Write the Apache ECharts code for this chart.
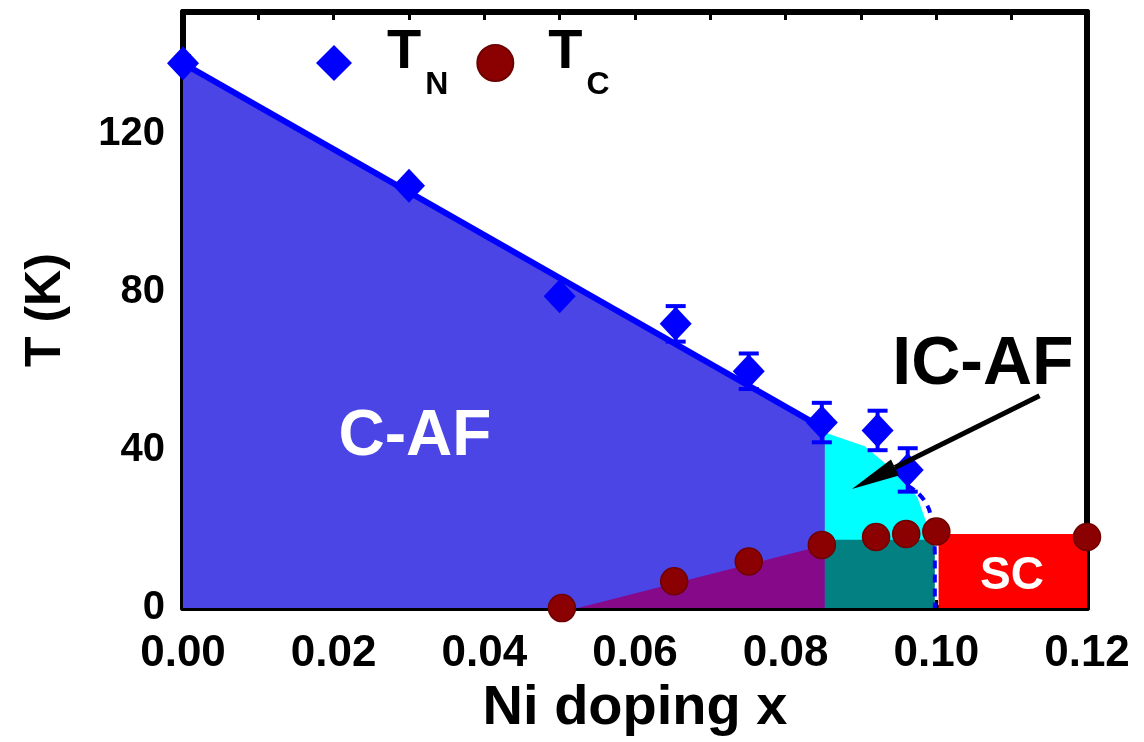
<!DOCTYPE html>
<html><head><meta charset="utf-8">
<script src="https://cdn.jsdelivr.net/npm/echarts@6/dist/echarts.min.js"></script>
<style>html,body{margin:0;padding:0;background:#fff}#c{width:1144px;height:742px}</style>
</head><body><div id="c"></div>
<script>
// ---- data ----
const tnX = [0.000, 0.030, 0.050, 0.0654, 0.0751, 0.0848, 0.0922, 0.0962];
const tnY = [138, 107, 79, 72, 60, 47, 45, 35];
const tnErr = [0, 0, 0, 4.5, 4.5, 5, 5, 5.5];
const tcX = [0.0503, 0.0652, 0.0751, 0.0848, 0.0920, 0.0960, 0.1000, 0.1200];
const tcY = [0, 6.8, 11.8, 16, 18, 18.8, 19.4, 18];
const fitLine = [[0, 138], [0.0855, 45]];
const cafRegion = [[0, 0], [0, 138], [0.0855, 45], [0.0855, 0]];
const icafRegion = [[0.0852, 16], [0.0852, 44.5], [0.0905, 41], [0.0955, 33], [0.0975, 28], [0.0988, 21], [0.0995, 17]];
const purpleRegion = [[0.0524, 0], [0.0852, 16], [0.0852, 0]];
const tealRegion = [[0.0852, 0], [0.0852, 17.3], [0.0998, 17.3], [0.0998, 0]];
const scRegion = [[0.1003, 0], [0.1003, 18.8], [0.12, 18.8], [0.12, 0]];
const dashedBoundary = [[0.0962, 31], [0.0985, 27], [0.0994, 21], [0.0998, 12], [0.0998, 0]];
const arrowPts = [[0.1137, 53.8], [0.0888, 30.2]];
const xTickLabels = ['0.00', '0.02', '0.04', '0.06', '0.08', '0.10', '0.12'];
const yTickLabels = ['0', '40', '80', '120'];
const FONT = "'Liberation Sans', Arial, sans-serif";

function polySeries(pts, color, z) {
  return {
    type: 'custom', silent: true, z: z, data: [pts[0]],
    renderItem: function (params, api) {
      return { type: 'polygon', shape: { points: pts.map(p => api.coord(p)) }, style: { fill: color } };
    }
  };
}

const frameAxisLine = { show: true, onZero: false, lineStyle: { color: '#000', width: 6 } };

const chart = echarts.init(document.getElementById('c'), null, { renderer: 'canvas' });
chart.setOption({
  animation: false,
  backgroundColor: '#fff',
  grid: { left: 183, right: 57, top: 12, bottom: 130, show: false },
  legend: {
    left: 311, top: 20, itemWidth: 36, itemHeight: 36, itemGap: 28,
    data: ['TN', 'TC'],
    formatter: function (n) { return '{t|T}{s|' + n.slice(1) + '}'; },
    textStyle: {
      fontFamily: FONT, color: '#000',
      rich: {
        t: { fontSize: 56, fontWeight: 'bold', fontFamily: FONT, verticalAlign: 'bottom', padding: [0, 0, 20, 30] },
        s: { fontSize: 32, fontWeight: 'bold', fontFamily: FONT, verticalAlign: 'bottom', padding: [0, 0, 0, 4] }
      }
    }
  },
  xAxis: [{
    type: 'value', min: 0, max: 0.12, interval: 0.02, position: 'bottom',
    name: 'Ni doping x', nameLocation: 'middle', nameGap: 72,
    nameTextStyle: { fontFamily: FONT, fontSize: 56, fontWeight: 'bold', color: '#000' },
    axisLine: frameAxisLine,
    axisTick: { show: true, inside: true, length: 8, lineStyle: { color: '#000', width: 3 } },
    axisLabel: { margin: 24, fontFamily: FONT, fontSize: 44, fontWeight: 'bold', color: '#000',
      formatter: function (v) { const i = Math.round(v / 0.02); return xTickLabels[i] || ''; } },
    splitLine: { show: false }
  }, {
    type: 'value', min: 0, max: 0.12, interval: 0.01, position: 'top',
    axisLine: frameAxisLine,
    axisTick: { show: true, inside: true, length: 8, lineStyle: { color: '#000', width: 3 } },
    axisLabel: { show: false }, splitLine: { show: false }
  }],
  yAxis: [{
    type: 'value', min: 0, max: 151, interval: 40, position: 'left',
    name: 'T (K)', nameLocation: 'middle', nameGap: 112, nameRotate: 90,
    nameTextStyle: { fontFamily: FONT, fontSize: 50, fontWeight: 'bold', color: '#000' },
    axisLine: frameAxisLine,
    axisTick: { show: true, inside: true, length: 8, lineStyle: { color: '#000', width: 3 } },
    minorTick: { show: true, splitNumber: 2, length: 8, lineStyle: { color: '#000', width: 3 } },
    axisLabel: { margin: 18, showMaxLabel: false, fontFamily: FONT, fontSize: 40, fontWeight: 'bold', color: '#000',
      formatter: function (v) { const i = Math.round(v / 40); return (v % 40 === 0 && yTickLabels[i]) ? yTickLabels[i] : ''; } },
    splitLine: { show: false }
  }, {
    type: 'value', min: 0, max: 151, position: 'right',
    axisLine: frameAxisLine,
    axisTick: { show: false }, axisLabel: { show: false }, splitLine: { show: false }
  }],
  series: [
    polySeries(cafRegion, '#4b45e6', 1),
    polySeries(purpleRegion, '#86098a', 2),
    polySeries(icafRegion, '#00ffff', 2),
    polySeries(tealRegion, '#038182', 3),
    polySeries(scRegion, '#ff0000', 3),
    {
      type: 'line', silent: true, z: 4, data: fitLine, symbol: 'none',
      lineStyle: { color: '#0000ff', width: 6 }
    },
    {
      type: 'line', silent: true, z: 4, data: dashedBoundary, symbol: 'none', smooth: true,
      lineStyle: { color: '#0000ff', width: 4, type: [8, 6] }
    },
    {
      type: 'custom', silent: true, z: 5,
      data: tnX.map((x, i) => [x, tnY[i], tnErr[i]]),
      renderItem: function (params, api) {
        const x = api.value(0), y = api.value(1), e = api.value(2);
        if (!e) return null;
        const t = api.coord([x, y + e]), b = api.coord([x, y - e]);
        const st = { stroke: '#0000ff', lineWidth: 4 };
        return { type: 'group', children: [
          { type: 'line', shape: { x1: t[0], y1: t[1], x2: b[0], y2: b[1] }, style: st },
          { type: 'line', shape: { x1: t[0] - 10, y1: t[1], x2: t[0] + 10, y2: t[1] }, style: st },
          { type: 'line', shape: { x1: b[0] - 10, y1: b[1], x2: b[0] + 10, y2: b[1] }, style: st }
        ] };
      }
    },
    {
      name: 'TN', type: 'scatter', z: 6, symbol: 'diamond', symbolSize: [32, 34],
      data: tnX.map((x, i) => [x, tnY[i]]),
      itemStyle: { color: '#0000ff', opacity: 1 }
    },
    {
      name: 'TC', type: 'scatter', z: 7, symbol: 'circle', symbolSize: 27,
      data: tcX.map((x, i) => [x, tcY[i]]),
      itemStyle: { color: '#8b0000', borderColor: '#6e0000', borderWidth: 1.5, opacity: 1 }
    },
    {
      type: 'custom', silent: true, z: 8, data: [arrowPts[0]],
      renderItem: function (params, api) {
        const s = api.coord(arrowPts[0]), e = api.coord(arrowPts[1]);
        const dx = e[0] - s[0], dy = e[1] - s[1], L = Math.hypot(dx, dy);
        const ux = dx / L, uy = dy / L, px = -uy, py = ux;
        const hl = 48, hw = 9;
        const bx = e[0] - ux * hl, by = e[1] - uy * hl;
        return { type: 'group', children: [
          { type: 'line', shape: { x1: s[0], y1: s[1], x2: bx, y2: by }, style: { stroke: '#000', lineWidth: 5 } },
          { type: 'polygon', shape: { points: [[e[0], e[1]], [bx + px * hw, by + py * hw], [bx - px * hw, by - py * hw]] }, style: { fill: '#000' } }
        ] };
      }
    }
  ],
  graphic: [
    { type: 'text', x: 415, y: 437, z: 100, style: { text: 'C-AF', align: 'center', verticalAlign: 'middle', fill: '#fff', font: "bold 64px " + FONT } },
    { type: 'text', x: 983, y: 365, z: 100, style: { text: 'IC-AF', align: 'center', verticalAlign: 'middle', fill: '#000', font: "bold 68px " + FONT } },
    { type: 'text', x: 1012, y: 576, z: 100, style: { text: 'SC', align: 'center', verticalAlign: 'middle', fill: '#fff', font: "bold 46px " + FONT } }
  ]
});
</script></body></html>
